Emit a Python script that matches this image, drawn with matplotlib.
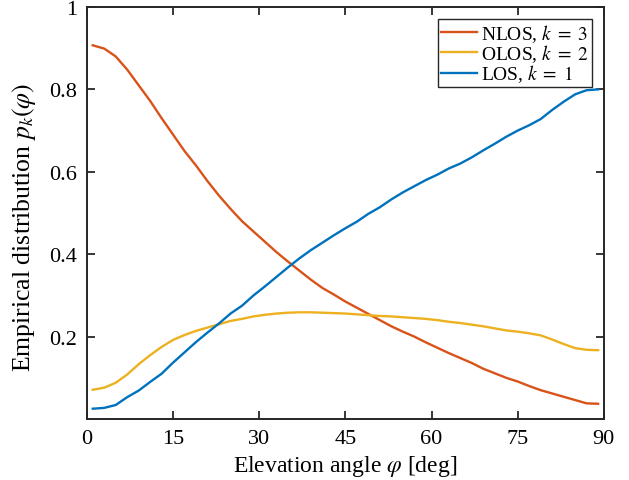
import matplotlib
matplotlib.use("Agg")
import matplotlib.pyplot as plt

plt.rcParams["font.family"] = ["Liberation Serif", "DejaVu Serif"]
plt.rcParams["mathtext.fontset"] = "stix"

# Elevation angle grid (deg)
angle = [1, 3, 5, 7, 9, 11, 13, 15, 17, 19, 21, 23, 25, 27, 29, 31, 33, 35, 37,
         39, 41, 43, 45, 47, 49, 51, 53, 55, 57, 59, 61, 63, 65, 67, 69, 71, 73,
         75, 77, 79, 81, 83, 85, 87, 89]

nlos = [0.907, 0.899, 0.880, 0.848, 0.810, 0.772, 0.730, 0.690, 0.650, 0.615,
        0.577, 0.542, 0.510, 0.480, 0.455, 0.430, 0.405, 0.382, 0.360, 0.338,
        0.318, 0.302, 0.285, 0.270, 0.255, 0.240, 0.225, 0.212, 0.200, 0.186,
        0.173, 0.160, 0.148, 0.136, 0.122, 0.111, 0.100, 0.091, 0.080, 0.070,
        0.062, 0.054, 0.046, 0.038, 0.037]

olos = [0.071, 0.076, 0.088, 0.108, 0.133, 0.155, 0.175, 0.192, 0.204, 0.214,
        0.222, 0.230, 0.238, 0.243, 0.249, 0.253, 0.256, 0.258, 0.259, 0.259,
        0.258, 0.257, 0.256, 0.254, 0.252, 0.250, 0.249, 0.247, 0.245, 0.243,
        0.240, 0.236, 0.233, 0.229, 0.225, 0.220, 0.215, 0.212, 0.208, 0.203,
        0.193, 0.182, 0.172, 0.168, 0.167]

los = [0.025, 0.027, 0.034, 0.053, 0.069, 0.090, 0.110, 0.137, 0.162, 0.187,
       0.210, 0.232, 0.256, 0.275, 0.300, 0.322, 0.345, 0.368, 0.390, 0.410,
       0.428, 0.446, 0.463, 0.479, 0.498, 0.514, 0.533, 0.550, 0.565, 0.580,
       0.593, 0.608, 0.620, 0.635, 0.652, 0.668, 0.685, 0.700, 0.713, 0.728,
       0.750, 0.770, 0.788, 0.798, 0.800]

fig = plt.figure(figsize=(6.29, 4.81), dpi=100)
ax = fig.add_axes([0.1383, 0.1268, 0.8217, 0.8566])

ax.plot(angle, nlos, color="#D95319", lw=1.7, label=r"NLOS, $k\;=\;3$")
ax.plot(angle, olos, color="#EDB120", lw=1.7, label=r"OLOS, $k\;=\;2$")
ax.plot(angle, los, color="#0072BD", lw=1.7, label=r"LOS, $k\;=\;1$")

ax.set_xlim(0, 90)
ax.set_ylim(0, 1)
ax.set_xticks([0, 15, 30, 45, 60, 75, 90])
ax.set_yticks([0.2, 0.4, 0.6, 0.8, 1])
ax.set_yticklabels(["0.2", "0.4", "0.6", "0.8", "1"])
ax.tick_params(direction="in", top=True, right=True, length=6, width=1.3,
               labelsize=16, colors="#262626", labelcolor="black", pad=7)
for s in ax.spines.values():
    s.set_linewidth(1.4)
    s.set_color("#262626")

ax.set_xlabel(r"Elevation angle $\varphi$ [deg]", fontsize=17, labelpad=4)
ax.set_ylabel(r"Empirical distribution $p_k(\varphi)$", fontsize=18.5)
ax.yaxis.set_label_coords(-0.095, 0.468)

leg = ax.legend(loc="upper right", fontsize=14, fancybox=False, framealpha=1,
                edgecolor="#262626", borderpad=0.15, labelspacing=-0.08,
                handlelength=1.85, handletextpad=0.25, borderaxespad=0.62)
leg.get_frame().set_linewidth(1.0)

fig.savefig("out.png", dpi=100)
